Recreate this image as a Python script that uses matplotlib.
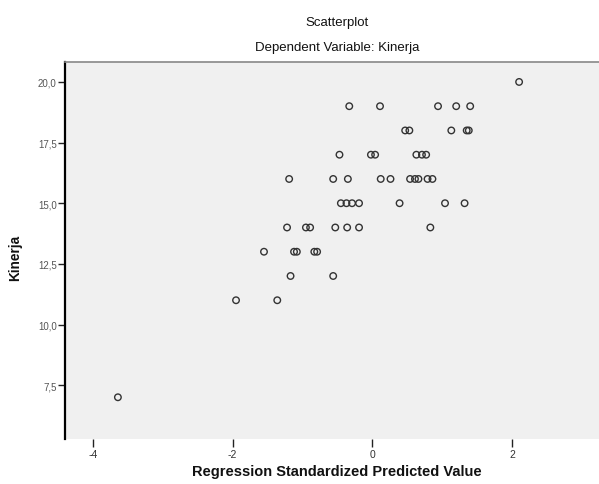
import matplotlib
matplotlib.use("Agg")
import matplotlib.pyplot as plt
from matplotlib.ticker import FuncFormatter

plt.rcParams['font.family'] = ['Liberation Sans', 'DejaVu Sans']

# standardized predicted value (x) and Kinerja (y)
pred_20 = [2.10]
pred_19 = [-0.33, 0.11, 0.94, 1.20, 1.40]
pred_18 = [0.47, 0.53, 1.13, 1.35, 1.38]
pred_17 = [-0.47, -0.02, 0.04, 0.63, 0.71, 0.77]
pred_16 = [-1.19, -0.56, -0.35, 0.12, 0.26, 0.54, 0.61, 0.66, 0.79, 0.86]
pred_15 = [-0.45, -0.37, -0.29, -0.19, 0.39, 1.04, 1.32]
pred_14 = [-1.22, -0.95, -0.89, -0.53, -0.36, -0.19, 0.83]
pred_13 = [-1.55, -1.12, -1.08, -0.83, -0.79]
pred_12 = [-1.17, -0.56]
pred_11 = [-1.95, -1.36]
pred_7 = [-3.64]

kinerja_levels = [20, 19, 18, 17, 16, 15, 14, 13, 12, 11, 7]
pred_groups = [pred_20, pred_19, pred_18, pred_17, pred_16, pred_15,
               pred_14, pred_13, pred_12, pred_11, pred_7]

x_ticks = [-4, -2, 0, 2]
y_ticks = [7.5, 10.0, 12.5, 15.0, 17.5, 20.0]

xs, ys = [], []
for lvl, grp in zip(kinerja_levels, pred_groups):
    xs += grp
    ys += [lvl] * len(grp)

fig = plt.figure(figsize=(5.99, 4.85), dpi=100)
ax = fig.add_axes([0.1085, 0.0928, 0.8915, 0.7767])
ax.set_facecolor('#f0f0f0')

ax.scatter(xs, ys, s=22, facecolors='none', edgecolors='#333333', linewidths=1.0, zorder=3)

ax.set_xlim(-4.397, 3.243)
ax.set_ylim(5.28, 20.81)
ax.set_xticks(x_ticks)
ax.set_yticks(y_ticks)
ax.yaxis.set_major_formatter(FuncFormatter(lambda v, p: f"{v:.1f}".replace('.', ',')))
ax.xaxis.set_major_formatter(FuncFormatter(lambda v, p: f"{int(v)}"))

ax.tick_params(axis='y', direction='out', length=5, width=1, color='#222222',
               labelsize=7, labelcolor='#555555', pad=1)
ax.tick_params(axis='x', direction='out', length=6, width=1, color='#222222',
               labelsize=7.5, labelcolor='#333333', pad=1)

ax.spines['left'].set_linewidth(1.6)
ax.spines['left'].set_color('black')
ax.spines['top'].set_color('#888888')
ax.spines['top'].set_linewidth(1.2)
ax.spines['bottom'].set_visible(False)
ax.spines['right'].set_visible(False)

fig.text(0.563, 0.952, "Scatterplot", ha='center', va='center', fontsize=9.5, color='#111111')
fig.text(0.563, 0.900, "Dependent Variable: Kinerja", ha='center', va='center', fontsize=9.5, color='#111111')
fig.text(0.563, 0.027, "Regression Standardized Predicted Value", ha='center', va='center',
         fontsize=10.5, fontweight='bold', color='#111111')
fig.text(0.026, 0.468, "Kinerja", ha='center', va='center', rotation=90,
         fontsize=9.8, fontweight='bold', color='#111111')

fig.savefig("out.png", dpi=100)
